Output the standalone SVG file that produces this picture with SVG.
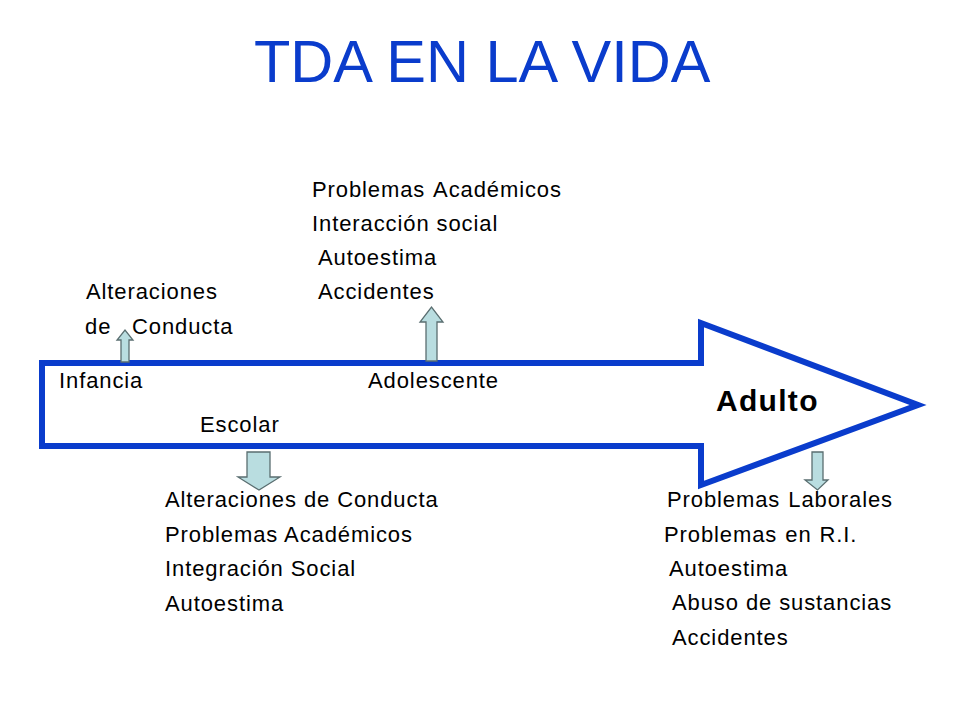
<svg xmlns="http://www.w3.org/2000/svg" width="960" height="720" viewBox="0 0 960 720">
<style>
.t{font-family:"Liberation Sans",Arial,sans-serif;font-size:22px;fill:#000;letter-spacing:0.9px}
.ttl{font-family:"Liberation Sans",Arial,sans-serif;font-size:59.5px;fill:#0a3ccc}
.b{font-family:"Liberation Sans",Arial,sans-serif;font-size:30px;font-weight:bold;fill:#000;letter-spacing:1.3px}
.sa{fill:#b9dde0;stroke:#5a6e70;stroke-width:1.3}
</style>
<rect width="960" height="720" fill="#fff"/>
<text class="ttl" x="254" y="82">TDA EN LA VIDA</text>
<g id="timeline">
<polygon points="42,363 701,363 701,323 918,405 701,485 701,446 42,446" fill="#fff" stroke="#0a3ccc" stroke-width="6" stroke-linejoin="miter"/>
<text class="t" x="59" y="388">Infancia</text>
<text class="t" x="368" y="388">Adolescente</text>
<text class="t" x="200" y="432">Escolar</text>
<text class="b" x="716" y="411">Adulto</text>
</g>
<g id="connectors">
<polygon class="sa" points="121,362 121,340 117,340 125,330 133,340 129,340 129,362"/>
<polygon class="sa" points="426,361 426,322 420,322 431.5,307 443,322 437,322 437,361"/>
<polygon class="sa" points="247,452 270,452 270,477 280,477 259,490 238,477 247,477"/>
<polygon class="sa" points="812,452 823,452 823,480 828,480 817.5,490 805,480 812,480"/>
</g>
<g id="infancia-effects">
<text class="t" x="86" y="299">Alteraciones</text>
<text class="t" y="334"><tspan x="85">de</tspan><tspan x="132">Conducta</tspan></text>
</g>
<g id="adolescente-effects">
<text class="t" x="312" y="197" word-spacing="2">Problemas Académicos</text>
<text class="t" x="312" y="231">Interacción social</text>
<text class="t" x="318" y="265">Autoestima</text>
<text class="t" x="318" y="299">Accidentes</text>
</g>
<g id="escolar-effects">
<text class="t" x="165" y="507">Alteraciones de Conducta</text>
<text class="t" x="165" y="542">Problemas Académicos</text>
<text class="t" x="165" y="576">Integración Social</text>
<text class="t" x="165" y="611">Autoestima</text>
</g>
<g id="adulto-effects">
<text class="t" x="667" y="507" word-spacing="1">Problemas Laborales</text>
<text class="t" x="664" y="542" word-spacing="1">Problemas en R.I.</text>
<text class="t" x="669" y="576">Autoestima</text>
<text class="t" x="672" y="610">Abuso de sustancias</text>
<text class="t" x="672" y="645">Accidentes</text>
</g>
</svg>
